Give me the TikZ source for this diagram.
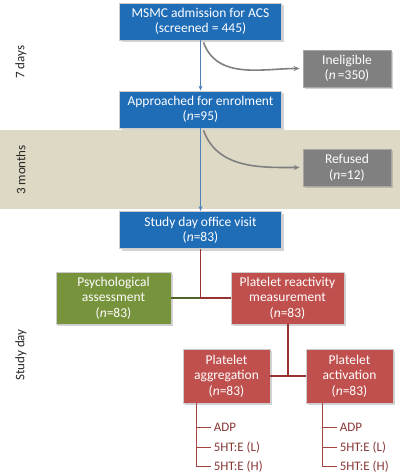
\documentclass[tikz,border=0pt]{standalone}
\usepackage{fontspec}
\setmainfont{Carlito}
\usetikzlibrary{positioning,calc,shadows,arrows.meta}

\definecolor{boxblue}{RGB}{31,108,183}
\definecolor{boxgray}{RGB}{128,128,128}
\definecolor{boxgreen}{RGB}{119,147,60}
\definecolor{boxred}{RGB}{192,80,77}
\definecolor{linered}{RGB}{150,50,50}
\definecolor{linegreen}{RGB}{79,98,40}
\definecolor{lineblue}{RGB}{79,129,189}
\definecolor{bandtan}{RGB}{221,217,196}

\tikzset{
  box/.style={draw=white!80!black, line width=0.8pt, text=white, align=center,
    font=\fontsize{13.5}{15.5}\selectfont, inner sep=1pt,
    drop shadow={opacity=0.35, shadow xshift=2pt, shadow yshift=-2pt}},
  bluebox/.style={box, fill=boxblue, minimum width=162pt, minimum height=37pt},
  graybox/.style={box, fill=boxgray, draw=black!35, minimum width=88pt, minimum height=37pt},
  greenbox/.style={box, fill=boxgreen, minimum width=115pt, minimum height=52pt},
  redbox/.style={box, fill=boxred, minimum width=87pt, minimum height=54pt},
  bluearrow/.style={draw=lineblue, line width=0.9pt, -{Stealth[length=5pt, width=4pt]}},
  grayarrow/.style={draw=boxgray, line width=1.6pt, -{Stealth[length=6pt, width=5pt]}, shorten >=3pt},
  redline/.style={draw=linered, line width=1.2pt},
  greenline/.style={draw=linegreen, line width=1.2pt},
  subline/.style={draw=boxred!85!black, line width=1pt},
  item/.style={anchor=west, inner sep=3pt, text=boxred!70!black, font=\fontsize{13}{15}\selectfont},
  period/.style={rotate=90, text=black!85, font=\fontsize{13}{15}\selectfont}
}

\begin{document}
\begin{tikzpicture}[x=1pt, y=-1pt]
  \useasboundingbox (0,0) rectangle (400,473);
  % band for the 3 months period
  \fill[bandtan] (0,130) rectangle (400,209);

  % time periods
  \node[period] (days) at (21,62) {7 days};
  \node[period] (months) at (21,170) {3 months};
  \node[period] (study) at (21,355) {Study day};

  % main flow
  \node[bluebox] (msmc) at (200.5,21.5) {MSMC admission for ACS\\(screened = 445)};
  \node[graybox] (inel) at (347,68.5) {Ineligible\\(\textit{n}\,=350)};
  \node[bluebox] (appr) at (200.5,109.5) {Approached for enrolment\\(\textit{n}=95)};
  \node[graybox] (refu) at (347,167.5) {Refused\\(\textit{n}=12)};
  \node[bluebox] (visit) at (200.5,230) {Study day office visit\\(\textit{n}=83)};

  \draw[bluearrow] (msmc) -- (appr);
  \draw[bluearrow] (appr) -- (visit);
  \coordinate (c1) at ($(msmc.south)+(3,2)$);
  \coordinate (c2) at ($(appr.south)+(3,2)$);
  \draw[grayarrow] (c1) to[out=-70, in=180] (inel.west);
  \draw[grayarrow] (c2) to[out=-70, in=180] (refu.west);

  % study day
  \node[greenbox] (psych) at (113.5,298) {Psychological\\assessment\\(\textit{n}=83)};
  \node[redbox, minimum width=113pt, minimum height=52pt] (react) at (287.5,298) {Platelet reactivity\\measurement\\(\textit{n}=83)};
  \coordinate (j1) at (visit.south |- psych.east);
  \draw[greenline] (psych.east) -- (j1);
  \draw[redline] (visit.south) -- (j1) -- (react.west);

  \node[redbox] (aggr) at (226.5,376) {Platelet\\aggregation\\(\textit{n}=83)};
  \node[redbox] (activ) at (349.5,376) {Platelet\\activation\\(\textit{n}=83)};
  \coordinate (j2) at ($(aggr.east)!0.5!(activ.west)$);
  \draw[redline] (aggr.east) -- (activ.west);
  \draw[redline] (j2) -- (j2 |- react.south);

  % assays
  \coordinate (a0) at ($(aggr.south west)+(14,0)$);
  \coordinate (b0) at ($(activ.south west)+(17,0)$);
  \foreach \n/\lab/\dy in {1/{ADP}/24, 2/{5HT:E (L)}/44, 3/{5HT:E (H)}/63} {
    \node[item] (ag\n) at ($(a0)+(14,\dy)$) {\lab};
    \node[item] (ac\n) at ($(b0)+(14,\dy)$) {\lab};
    \draw[subline] (a0) |- (ag\n.west);
    \draw[subline] (b0) |- (ac\n.west);
  }
\end{tikzpicture}
\end{document}
